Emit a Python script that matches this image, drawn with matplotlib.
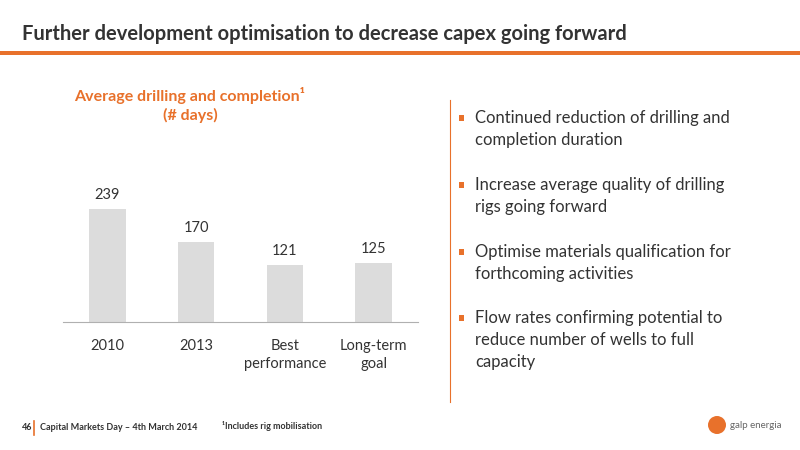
import matplotlib
matplotlib.use('agg')
import matplotlib.pyplot as plt
from matplotlib.patches import Rectangle, Ellipse

categories = ['2010', '2013', 'Best\nperformance', 'Long-term\ngoal']
days = [239, 170, 121, 125]
bullets = [
    'Continued reduction of drilling and\ncompletion duration',
    'Increase average quality of drilling\nrigs going forward',
    'Optimise materials qualification for\nforthcoming activities',
    'Flow rates confirming potential to\nreduce number of wells to full\ncapacity',
]

ORANGE = '#e8712b'
DARK = '#333333'
W, H = 800, 450

fig = plt.figure(figsize=(8, 4.5), dpi=100)
fig.patch.set_facecolor('white')

def fx(px):
    return px / W

def fy(py):
    return 1 - py / H

# title + orange rule
fig.text(fx(22), fy(34), 'Further development optimisation to decrease capex going forward',
         fontsize=14.5, fontweight='bold', color=DARK, family='Lato', va='center')
fig.add_artist(Rectangle((0, fy(55)), 1, 4 / H, transform=fig.transFigure,
                         color=ORANGE, lw=0))

# chart title
fig.text(fx(190), fy(96), 'Average drilling and completion\u00b9', fontsize=11.5,
         fontweight='bold', color=ORANGE, ha='center', va='center', family='Lato')
fig.text(fx(190), fy(115), '(# days)', fontsize=11.5, fontweight='bold',
         color=ORANGE, ha='center', va='center', family='Lato')

# bars
ax = fig.add_axes([fx(63), fy(322), 355 / W, 172 / H])
x = range(len(days))
ax.bar(x, days, width=0.41, color='#dcdcdc')
for i, v in zip(x, days):
    ax.text(i, v + 14, str(v), ha='center', va='bottom', fontsize=10.5, color=DARK,
            family='Lato')
ax.set_ylim(0, 172 / 0.473)
ax.set_xlim(-0.5, len(days) - 0.5)
ax.set_yticks([])
ax.set_xticks(list(x))
ax.set_xticklabels(categories, fontsize=10.5, color=DARK, family='Lato',
                   linespacing=1.4)
ax.tick_params(axis='x', length=0, pad=12)
for s in ['top', 'right', 'left']:
    ax.spines[s].set_visible(False)
ax.spines['bottom'].set_color('#b0b0b0')
ax.patch.set_alpha(0)

# divider
fig.add_artist(plt.Line2D([fx(450), fx(450)], [fy(100), fy(402)],
                          transform=fig.transFigure, color=ORANGE, lw=0.8))

# bullets
ys = [118, 185, 252, 318]
for y, b in zip(ys, bullets):
    fig.add_artist(Rectangle((fx(459), fy(y + 3)), 5 / W, 6 / H,
                             transform=fig.transFigure, color=ORANGE, lw=0))
    fig.text(fx(475), fy(y - 8), b, fontsize=12, color=DARK, family='Lato',
             va='top', linespacing=1.45)

# footer
fig.text(fx(22), fy(428), '46', fontsize=6.5, fontweight='bold', color=DARK,
         va='center', family='Lato')
fig.add_artist(plt.Line2D([fx(34), fx(34)], [fy(421), fy(435)],
                          transform=fig.transFigure, color=ORANGE, lw=1.2))
fig.text(fx(40), fy(428), 'Capital Markets Day \u2013 4th March 2014', fontsize=6.5,
         fontweight='bold', color=DARK, va='center', family='Lato')
fig.text(fx(222), fy(426), '\u00b9Includes rig mobilisation', fontsize=6.5,
         fontweight='bold', color=DARK, va='center', family='Lato')

# logo
fig.add_artist(Ellipse((fx(717), fy(425)), 18 / W, 18 / H, transform=fig.transFigure,
                       color=ORANGE, lw=0))
fig.text(fx(730), fy(425), 'galp energia', fontsize=7, color='#666666', va='center',
         family='Lato')

fig.savefig('out.png', dpi=100)
